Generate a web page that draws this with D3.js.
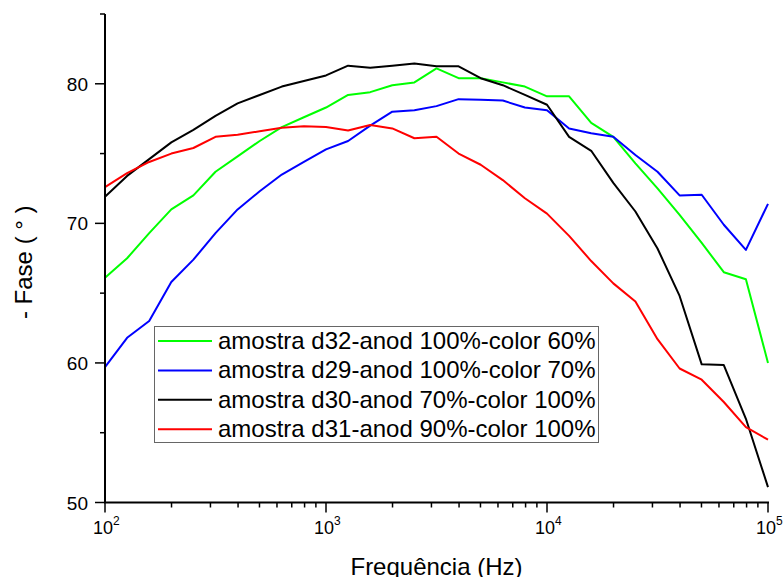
<!DOCTYPE html>
<html>
<head>
<meta charset="utf-8">
<script src="https://cdn.jsdelivr.net/npm/d3@7"></script>
<style>
	body { margin: 0; background: white; }
	text { font-family: Arial, "Liberation Sans", sans-serif; }
</style>
</head>
<body>
<svg id="viz"></svg>
<script>

// 10 points per decade, 10^2 .. 10^5
var exponents = d3.range(0, 31).map(i => 2 + i / 10)
var freqs = exponents.map(e => Math.pow(10, e))

var greenVals = [66.1, 67.5, 69.3, 71.0, 72.0, 73.7, 74.8, 75.9, 76.9, 77.6, 78.3, 79.2, 79.4, 79.9, 80.1, 81.1, 80.4, 80.4, 80.1, 79.8, 79.1, 79.1, 77.2, 76.2, 74.3, 72.5, 70.6, 68.6, 66.5, 66.0, 60.0]
var blueVals = [59.7, 61.8, 63.0, 65.8, 67.4, 69.3, 71.0, 72.3, 73.5, 74.4, 75.3, 75.9, 77.0, 78.0, 78.1, 78.4, 78.9, 78.85, 78.8, 78.3, 78.1, 76.8, 76.45, 76.2, 74.9, 73.7, 72.0, 72.05, 69.9, 68.1, 71.4]
var blackVals = [71.9, 73.4, 74.6, 75.8, 76.7, 77.7, 78.6, 79.2, 79.8, 80.2, 80.6, 81.3, 81.15, 81.3, 81.45, 81.25, 81.25, 80.4, 79.9, 79.2, 78.5, 76.2, 75.2, 72.9, 70.85, 68.2, 64.8, 59.9, 59.85, 56.0, 51.1]
var redVals = [72.6, 73.6, 74.4, 75.0, 75.4, 76.2, 76.35, 76.6, 76.85, 76.95, 76.9, 76.65, 77.05, 76.8, 76.1, 76.2, 75.0, 74.2, 73.1, 71.8, 70.7, 69.1, 67.3, 65.7, 64.4, 61.7, 59.6, 58.8, 57.2, 55.4, 54.5]

var seriesNames = [
	"amostra d32-anod 100%-color 60%",
	"amostra d29-anod 100%-color 70%",
	"amostra d30-anod 70%-color 100%",
	"amostra d31-anod 90%-color 100%"
]
var seriesColors = ["#00ff00", "#0000ff", "#000000", "#ff0000"]
var seriesVals = [greenVals, blueVals, blackVals, redVals]

var yMajor = [50, 60, 70, 80]
var yMinor = [55, 65, 75, 85]
var xMajorExp = [2, 3, 4, 5]

var width = 783;
var height = 577;

var svg = d3.select("#viz")
	.attr("width", width)
	.attr("height", height)

// plot box (don't call it "top", that's window.top)
var plotL = 105, plotR = 768, plotT = 14, plotB = 502.5

var scaleX = d3.scaleLog().domain([100, 100000]).range([plotL, plotR])
var scaleY = d3.scaleLinear().domain([50, 85]).range([plotB, plotT])

// minor x ticks 2..9 in each decade
var xMinor = []
for (let d = 2; d < 5; d++) {
	for (let m = 2; m <= 9; m++) {
		xMinor.push(m * Math.pow(10, d))
	}
}

var line = d3.line()
	.x((d, i) => scaleX(freqs[i]))
	.y(d => scaleY(d))

// curves
for (let s = 0; s < seriesVals.length; s++) {
	svg.append("path")
		.attr("d", line(seriesVals[s]))
		.attr("fill", "none")
		.attr("stroke", seriesColors[s])
		.attr("stroke-width", 2)
		.attr("stroke-linejoin", "round")
}

// axes lines
svg.append("line")
	.attr("x1", plotL).attr("x2", plotL)
	.attr("y1", plotT).attr("y2", plotB)
	.attr("stroke", "black").attr("stroke-width", 2)

svg.append("line")
	.attr("x1", plotL - 1).attr("x2", plotR + 1)
	.attr("y1", plotB).attr("y2", plotB)
	.attr("stroke", "black").attr("stroke-width", 2)

// y ticks
svg.selectAll(".ymaj")
	.data(yMajor)
	.enter()
	.append("line")
	.attr("x1", plotL - 10).attr("x2", plotL)
	.attr("y1", d => scaleY(d)).attr("y2", d => scaleY(d))
	.attr("stroke", "black").attr("stroke-width", 1.5)

svg.selectAll(".ymin")
	.data(yMinor)
	.enter()
	.append("line")
	.attr("x1", plotL - 5).attr("x2", plotL)
	.attr("y1", d => scaleY(d)).attr("y2", d => scaleY(d))
	.attr("stroke", "black").attr("stroke-width", 1.5)

svg.selectAll(".ylab")
	.data(yMajor)
	.enter()
	.append("text")
	.attr("x", plotL - 17)
	.attr("y", d => scaleY(d) + 7)
	.attr("text-anchor", "end")
	.style("font-size", "19px")
	.text(d => d)

// x ticks
svg.selectAll(".xmaj")
	.data(xMajorExp)
	.enter()
	.append("line")
	.attr("x1", d => scaleX(Math.pow(10, d))).attr("x2", d => scaleX(Math.pow(10, d)))
	.attr("y1", plotB).attr("y2", plotB + 10)
	.attr("stroke", "black").attr("stroke-width", 1.5)

svg.selectAll(".xmin")
	.data(xMinor)
	.enter()
	.append("line")
	.attr("x1", d => scaleX(d)).attr("x2", d => scaleX(d))
	.attr("y1", plotB).attr("y2", plotB + 5)
	.attr("stroke", "black").attr("stroke-width", 1.5)

var xlab = svg.selectAll(".xlab")
	.data(xMajorExp)
	.enter()
	.append("text")
	.attr("x", d => scaleX(Math.pow(10, d)) - 12)
	.attr("y", plotB + 31)
	.style("font-size", "18px")

xlab.append("tspan").text("10")
xlab.append("tspan")
	.attr("dy", -9)
	.style("font-size", "12px")
	.text(d => d)

// axis titles
svg.append("text")
	.attr("x", (plotL + plotR) / 2)
	.attr("y", 575)
	.attr("text-anchor", "middle")
	.style("font-size", "24px")
	.text("Frequência (Hz)")

svg.append("text")
	.attr("transform", "translate(32," + ((plotT + plotB) / 2 + 4) + ") rotate(-90)")
	.attr("text-anchor", "middle")
	.style("font-size", "24px")
	.text("- Fase ( ° )")

// legend
var legend = svg.append("g")

legend.append("rect")
	.attr("x", 154.5).attr("y", 326.5)
	.attr("width", 444).attr("height", 116)
	.attr("fill", "white")
	.attr("stroke", "#666")
	.attr("stroke-width", 1)

for (let s = 0; s < seriesNames.length; s++) {
	let yy = 341 + s * 29.4
	legend.append("line")
		.attr("x1", 158).attr("x2", 212)
		.attr("y1", yy).attr("y2", yy)
		.attr("stroke", seriesColors[s])
		.attr("stroke-width", 2)
	legend.append("text")
		.attr("x", 218)
		.attr("y", yy + 8)
		.style("font-size", "24px")
		.text(seriesNames[s])
}

</script>
</body>
</html>
